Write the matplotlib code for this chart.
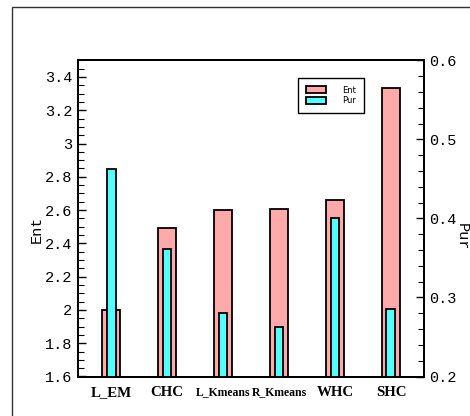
import matplotlib
matplotlib.use('Agg')
import matplotlib.pyplot as plt
import numpy as np
from matplotlib.patches import Rectangle
from matplotlib.ticker import MultipleLocator

# data
methods = ['L_EM', 'CHC', 'L_Kmeans', 'R_Kmeans', 'WHC', 'SHC']
ent = [2.0, 2.495, 2.60, 2.605, 2.66, 3.335]
pur = [0.4625, 0.361, 0.280, 0.263, 0.401, 0.286]

pink = '#FFAAAA'
cyan = '#55FFFF'
mono = 'Liberation Mono'

fig = plt.figure(figsize=(4.7, 4.16), dpi=100)
# outer frame (cut at the right/bottom edges like the screenshot)
fig.add_artist(Rectangle((12 / 470, -0.2), 2.0, 1.2 - 7 / 416,
                         transform=fig.transFigure, fill=False,
                         edgecolor='#333333', lw=1.0))

ax = fig.add_axes([78 / 470, (416 - 376.5) / 416, 346 / 470, 316.2 / 416])
ax2 = ax.twinx()

x = np.arange(len(methods))
ax.bar(x, ent, width=0.32, color=pink, edgecolor='black', lw=1.3, label='Ent')
ax2.bar(x, pur, width=0.16, color=cyan, edgecolor='black', lw=1.3, label='Pur')

ax.set_xlim(-0.59, 5.59)
ax.set_ylim(1.6, 3.5)
ax2.set_ylim(0.2, 0.6)

ax.yaxis.set_minor_locator(MultipleLocator(0.05))
ax2.yaxis.set_minor_locator(MultipleLocator(0.02))

ax.set_yticks(np.arange(1.6, 3.41, 0.2))
ax.set_yticklabels(['1.6', '1.8', '2', '2.2', '2.4', '2.6', '2.8', '3', '3.2', '3.4'])
ax2.set_yticks(np.arange(0.2, 0.61, 0.1))
ax2.set_yticklabels(['0.2', '0.3', '0.4', '0.5', '0.6'])

for a in (ax, ax2):
    for s in a.spines.values():
        s.set_linewidth(1.4)
    a.tick_params(axis='y', which='major', direction='in', length=6, width=1.0,
                  labelsize=11, pad=4)
    a.tick_params(axis='y', which='minor', direction='in', length=4, width=0.8)
for lab in ax.get_yticklabels() + ax2.get_yticklabels():
    lab.set_fontfamily(mono)

ax.set_xticks(x)
ax.set_xticklabels(methods)
ax.tick_params(axis='x', length=0, pad=7)
for lab in ax.get_xticklabels():
    lab.set_fontfamily('Liberation Serif')
    lab.set_fontweight('bold')
    lab.set_fontsize(8.5 if 'Kmeans' in lab.get_text() else 10.7)

ax.set_ylabel('Ent', fontfamily=mono, fontsize=11)
ax.yaxis.set_label_coords(-0.098, 0.466)
ax2.set_ylabel('Pur', fontfamily=mono, fontsize=11, rotation=270)
ax2.yaxis.set_label_coords(1.128, 0.441)

h1, l1 = ax.get_legend_handles_labels()
h2, l2 = ax2.get_legend_handles_labels()
leg = ax2.legend(h1 + h2, l1 + l2, loc='upper left', bbox_to_anchor=(0.636, 0.944),
                 fancybox=False, edgecolor='black', framealpha=1, prop={'size': 6},
                 handlelength=2.4, handleheight=0.9, labelspacing=0.2,
                 borderpad=0.9, handletextpad=2.0, borderaxespad=0)
leg.get_frame().set_linewidth(1.0)

fig.savefig('out.png', dpi=100)
